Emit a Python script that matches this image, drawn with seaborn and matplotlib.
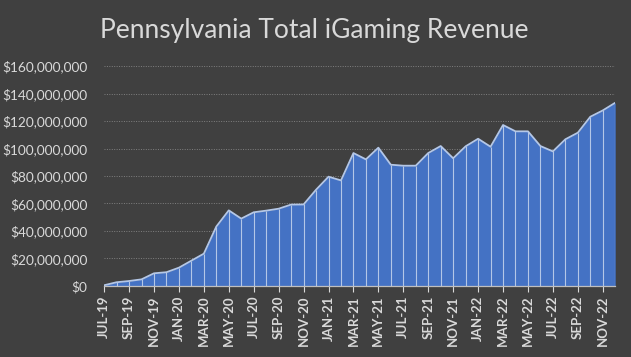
import matplotlib
matplotlib.use("Agg")
import matplotlib.pyplot as plt
import matplotlib.ticker as mticker
import seaborn as sns
import pandas as pd
import numpy as np

months = ["JUL-19","AUG-19","SEP-19","OCT-19","NOV-19","DEC-19",
          "JAN-20","FEB-20","MAR-20","APR-20","MAY-20","JUN-20",
          "JUL-20","AUG-20","SEP-20","OCT-20","NOV-20","DEC-20",
          "JAN-21","FEB-21","MAR-21","APR-21","MAY-21","JUN-21",
          "JUL-21","AUG-21","SEP-21","OCT-21","NOV-21","DEC-21",
          "JAN-22","FEB-22","MAR-22","APR-22","MAY-22","JUN-22",
          "JUL-22","AUG-22","SEP-22","OCT-22","NOV-22","DEC-22"]
revenue_m = [0.5, 2.7, 3.6, 4.8, 9.2, 10.0,
             13.3, 18.4, 23.5, 43.2, 55.0, 49.0,
             53.6, 54.8, 56.2, 59.2, 59.3, 70.0,
             79.5, 76.8, 96.7, 92.1, 100.6, 88.2,
             87.5, 87.5, 96.7, 101.8, 92.9, 101.6,
             107.1, 101.3, 117.1, 112.5, 112.5, 101.8,
             97.9, 106.7, 111.5, 123.1, 127.7, 133.3]
title = "Pennsylvania Total iGaming Revenue"

df = pd.DataFrame({"idx": np.arange(len(months)), "month": months,
                   "revenue": np.array(revenue_m) * 1e6})

bg = "#404040"
fill = "#4472C4"
edge = "#B4C7E7"
txt = "#D9D9D9"

sns.set_theme(style="dark")
plt.rcParams["font.family"] = ["Lato", "DejaVu Sans"]

fig = plt.figure(figsize=(6.31, 3.57), dpi=100, facecolor=bg)
ax = fig.add_axes([0.165, 0.199, 0.810, 0.616])
ax.set_facecolor(bg)

ax.fill_between(df["idx"], df["revenue"], 0, color=fill, linewidth=0, zorder=2)
sns.lineplot(data=df, x="idx", y="revenue", ax=ax, color=edge, linewidth=1.3, zorder=4)
ax.vlines(df["idx"], 0, df["revenue"], colors=edge, linewidth=0.8, zorder=3)

ax.set_xlim(0, len(months) - 1)
ax.set_ylim(0, 160e6)
ax.yaxis.set_major_locator(mticker.MultipleLocator(20e6))
ax.yaxis.set_major_formatter(mticker.FuncFormatter(lambda v, p: "${:,.0f}".format(v)))
ax.grid(axis="y", color="#808080", linestyle=(0, (1, 1.5)), linewidth=0.7, zorder=1)
ax.grid(axis="x", visible=False)

ax.set_xticks(df["idx"][::2])
ax.set_xticklabels(df["month"][::2], rotation=90, fontweight="bold")
ax.tick_params(axis="x", colors=txt, labelsize=9.5, length=4, width=0.8, direction="out",
               bottom=True, pad=3)
ax.tick_params(axis="y", colors=txt, labelsize=9.8, length=0, pad=12)
for lab in ax.get_xticklabels() + ax.get_yticklabels():
    lab.set_color(txt)

for s in ["top", "right", "left"]:
    ax.spines[s].set_visible(False)
ax.spines["bottom"].set_color("#bfbfbf")
ax.spines["bottom"].set_linewidth(0.9)
ax.spines["bottom"].set_zorder(5)
ax.set_xlabel("")
ax.set_ylabel("")

fig.text(0.498, 0.915, title, ha="center", va="center", color=txt, fontsize=19)

fig.savefig("out.png", dpi=100, facecolor=bg)
